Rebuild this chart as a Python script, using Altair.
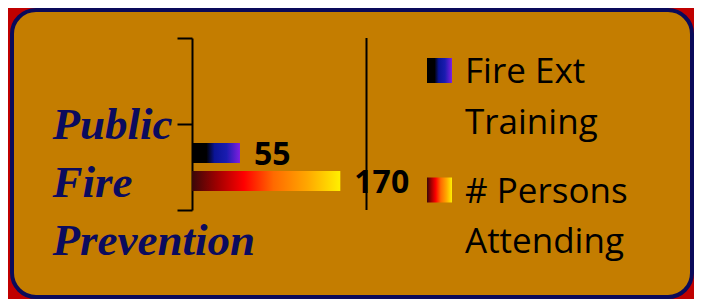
import altair as alt
import pandas as pd

# ---- data ----
categories = ["", "Public Fire Prevention"]
series = ["Fire Ext Training", "# Persons Attending"]
legend_text = ["Fire Ext|Training", "# Persons|Attending"]
values = [55, 170]
axis_max = 200

df = pd.DataFrame({
    "category": ["Public Fire Prevention"] * 2,
    "series": series,
    "value": values,
})
leg = pd.DataFrame({"series": series, "label": legend_text})

# ---- styles ----
NAVY = "#0B0B5E"
OCHRE = "#C47D00"
RED = "#C00000"

grad_blue = alt.Gradient(
    gradient="linear", x1=0, x2=1, y1=0, y2=0,
    stops=[
        alt.GradientStop(color="#000000", offset=0),
        alt.GradientStop(color="#000000", offset=0.3),
        alt.GradientStop(color="#0A1496", offset=0.47),
        alt.GradientStop(color="#1A1CB0", offset=0.72),
        alt.GradientStop(color="#7F1FE0", offset=1),
    ],
)
grad_fire = alt.Gradient(
    gradient="linear", x1=0, x2=1, y1=0, y2=0,
    stops=[
        alt.GradientStop(color="#3A0808", offset=0),
        alt.GradientStop(color="#A00000", offset=0.17),
        alt.GradientStop(color="#FF0000", offset=0.35),
        alt.GradientStop(color="#FF6A00", offset=0.55),
        alt.GradientStop(color="#FFA800", offset=0.78),
        alt.GradientStop(color="#FFF000", offset=1),
    ],
)

x_scale = alt.Scale(domain=[0, axis_max], range=[180, 354.5], zero=True, nice=False)
x_enc = alt.X("value:Q", scale=x_scale, axis=None)
y_enc = alt.Y(
    "category:N",
    scale=alt.Scale(type="band", domain=categories, range=[28, 200],
                    paddingInner=0, paddingOuter=0),
    axis=alt.Axis(
        title=None, offset=-180, domainColor="#000000", domainWidth=2,
        tickColor="#000000", tickWidth=2, tickSize=15, tickBand="extent",
        labelAlign="left", labelPadding=125, labelBaseline="alphabetic",
        labelOffset=-29, labelLineHeight=58, labelLimit=400,
        labelFont="Liberation Serif", labelFontStyle="italic",
        labelFontWeight="bold", labelFontSize=45, labelColor=NAVY,
        labelExpr="split(datum.label, ' ')", labelOverlap=False, grid=False,
    ),
)
yoff_enc = alt.YOffset(
    "series:N",
    scale=alt.Scale(domain=series, paddingInner=0.2857, paddingOuter=0.679),
)

base = alt.Chart(df)
bar1 = base.transform_filter(alt.datum.series == series[0]).mark_bar(
    fill=grad_blue).encode(x=x_enc, y=y_enc, yOffset=yoff_enc)
bar2 = base.transform_filter(alt.datum.series == series[1]).mark_bar(
    fill=grad_fire).encode(x=x_enc, y=y_enc, yOffset=yoff_enc)
labels = base.mark_text(
    align="left", baseline="alphabetic", dx=14, dy=12,
    font="Open Sans", fontWeight="bold", fontSize=32, color="#000000",
).encode(x=x_enc, y=y_enc, yOffset=yoff_enc, text="value:Q")
gridline = alt.Chart(pd.DataFrame({"value": [axis_max]})).mark_rule(
    color="#000000", strokeWidth=2).encode(
    x=x_enc, y=alt.value(28), y2=alt.value(200))

main = alt.layer(gridline, bar1, bar2, labels)

ly = alt.Y("series:N",
           scale=alt.Scale(type="point", domain=series, range=[60.5, 180], padding=0),
           axis=None)
lbase = alt.Chart(leg)
sw1 = lbase.transform_filter(alt.datum.series == series[0]).mark_square(
    fill=grad_blue, filled=True, size=625, opacity=1).encode(x=alt.value(427.5), y=ly)
sw2 = lbase.transform_filter(alt.datum.series == series[1]).mark_square(
    fill=grad_fire, filled=True, size=625, opacity=1).encode(x=alt.value(427.5), y=ly)
ltxt = lbase.mark_text(
    align="left", baseline="alphabetic", dy=12.5, lineBreak="|", lineHeight=50.5,
    font="Open Sans", fontSize=35, color="#000000",
).encode(x=alt.value(453), y=ly, text="label:N")
legend = alt.layer(sw1, sw2, ltxt)

chart = alt.layer(main, legend).resolve_scale(y="independent").properties(
    width=680, height=287,
    padding={"left": 4, "top": 2, "right": 2, "bottom": 2},
    autosize=alt.AutoSizeParams(type="none"),
    background=RED,
).configure_view(
    fill=OCHRE, stroke="#0A0A5A", strokeWidth=4, cornerRadius=24,
)

chart.save("out.html", embed_options={"renderer": "svg", "actions": False})
